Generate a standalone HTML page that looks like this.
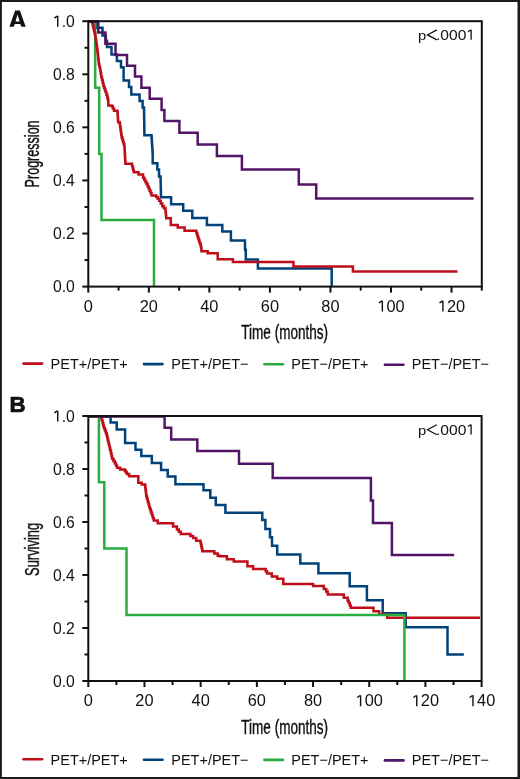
<!DOCTYPE html>
<html><head><meta charset="utf-8"><style>
html,body{margin:0;padding:0;background:#fff;width:520px;height:779px;overflow:hidden}
svg{display:block;will-change:transform}
text{font-family:"Liberation Sans", sans-serif}
</style></head><body>
<svg width="520" height="779" viewBox="0 0 520 779" font-family='"Liberation Sans", sans-serif' fill="#111">
<rect x="0" y="0" width="520" height="779" fill="#fff"/>
<path d="M88.30,21.70H97.20V27.70H102.50V35.40H105.80V40.80H107.00V47.00H111.50V54.40H116.90V61.00H121.00V67.30H123.60V80.60H129.00V86.90H131.30V94.40H139.60V100.90H142.60V107.50H144.00H144.03V109.81H144.07V112.12H144.10V114.42H144.13V116.73H144.17V119.04H144.20V121.35H144.23V123.66H144.27V125.97H144.30V128.27H144.33V130.58H144.37V132.89H144.40V135.20H151.40H151.56V137.67H151.72V140.15H151.89V142.62H152.05V145.10H152.21V147.57H152.38V150.05H152.54V152.53H152.70V155.00V163.30H157.30V169.60H159.00V176.50H160.50H160.56V178.80H160.61V181.10H160.67V183.40H160.72V185.70H160.78V188.00H160.83V190.30H160.89V192.60H160.94V194.90H161.00V197.20H171.10V204.20H183.20V210.70H192.30V218.10H206.90V225.00H222.30V231.60H230.90V240.50H245.00V249.80H245.80V259.40H257.90V268.40H331.70V286.60" fill="none" stroke="#00427a" stroke-width="2.5" stroke-linejoin="miter" stroke-linecap="butt"/>
<path d="M88.30,21.70H95.20V87.80H99.20V154.10H101.50V220.10H154.00V286.60" fill="none" stroke="#29ad40" stroke-width="2.5" stroke-linejoin="miter" stroke-linecap="butt"/>
<path d="M88.30,21.70H91.50H92.20V23.00H92.78V25.48H93.36V27.96H93.94V30.44H94.52V32.92H95.10V35.40H95.42V37.55H95.75V39.70H96.08V41.85H96.40V44.00H96.75V46.50H97.10V49.00H97.45V51.50H97.80V54.00H98.05V56.52H98.30V59.05H98.55V61.57H98.80V64.10H99.33V66.50H99.87V68.90H100.40V71.30H100.73V73.37H101.07V75.43H101.40V77.50H102.07V80.23H102.73V82.97H103.40V85.70H104.10V87.77H104.80V89.83H105.50V91.90H106.40V94.70H107.30V97.50H107.80V99.50H108.30V101.50V105.60H111.70V106.20H112.85V108.50H114.00V110.80H117.50V112.50H117.65V114.95H117.80V117.40H117.95V119.85H118.10V122.30H119.80V124.60H120.16V127.14H120.52V129.68H120.88V132.22H121.24V134.76H121.60V137.30H122.30V139.62H123.00V141.95H123.70V144.28H124.40V146.60H124.54V149.06H124.69V151.51H124.83V153.97H124.97V156.43H125.11V158.89H125.26V161.34H125.40V163.80H131.50H132.07V165.93H132.65V168.05H133.23V170.18H133.80V172.30H138.50V174.60H143.10V177.70H144.25V179.82H145.40V181.95H146.55V184.07H147.70V186.20H148.65V188.50H149.60V190.80H150.55V193.10H151.50V195.40H156.20V196.90H157.70V198.85H159.20V200.80H160.75V203.50H162.30V206.20H163.85V208.10H165.40V210.00H165.67V212.77H165.93V215.53H166.20V218.30H170.80V225.00H177.70V227.60H184.60V230.70H195.70H196.40V232.92H197.10V235.15H197.80V237.38H198.50V239.60H199.27V241.90H200.03V244.20H200.80V246.50H201.15V248.85H201.50V251.20H207.70V253.20H217.70V259.30H232.90V261.90H293.50V266.50H352.90V271.60H457.50" fill="none" stroke="#bf0d1a" stroke-width="2.5" stroke-linejoin="miter" stroke-linecap="butt"/>
<path d="M88.30,21.70H98.30V32.50H105.40V43.80H115.50V54.90H127.00V65.70H135.00V76.60H141.40V87.70H149.70V98.80H161.60V110.00H164.40V121.00H179.40V132.80H197.70V144.40H216.90V156.00H241.90V169.40H298.80V184.60H316.20V198.40H473.60" fill="none" stroke="#521466" stroke-width="2.5" stroke-linejoin="miter" stroke-linecap="butt"/>
<rect x="88.3" y="21.2" width="393.5" height="265.40000000000003" fill="none" stroke="#111" stroke-width="2.0"/>
<line x1="82.3" y1="286.60" x2="88.3" y2="286.60" stroke="#111" stroke-width="2.0"/>
<line x1="84.5" y1="260.06" x2="88.3" y2="260.06" stroke="#111" stroke-width="2.0"/>
<line x1="82.3" y1="233.52" x2="88.3" y2="233.52" stroke="#111" stroke-width="2.0"/>
<line x1="84.5" y1="206.98" x2="88.3" y2="206.98" stroke="#111" stroke-width="2.0"/>
<line x1="82.3" y1="180.44" x2="88.3" y2="180.44" stroke="#111" stroke-width="2.0"/>
<line x1="84.5" y1="153.90" x2="88.3" y2="153.90" stroke="#111" stroke-width="2.0"/>
<line x1="82.3" y1="127.36" x2="88.3" y2="127.36" stroke="#111" stroke-width="2.0"/>
<line x1="84.5" y1="100.82" x2="88.3" y2="100.82" stroke="#111" stroke-width="2.0"/>
<line x1="82.3" y1="74.28" x2="88.3" y2="74.28" stroke="#111" stroke-width="2.0"/>
<line x1="84.5" y1="47.74" x2="88.3" y2="47.74" stroke="#111" stroke-width="2.0"/>
<line x1="82.3" y1="21.20" x2="88.3" y2="21.20" stroke="#111" stroke-width="2.0"/>
<line x1="88.30" y1="286.6" x2="88.30" y2="292.6" stroke="#111" stroke-width="2.0"/>
<line x1="118.57" y1="286.6" x2="118.57" y2="290.6" stroke="#111" stroke-width="2.0"/>
<line x1="148.84" y1="286.6" x2="148.84" y2="292.6" stroke="#111" stroke-width="2.0"/>
<line x1="179.11" y1="286.6" x2="179.11" y2="290.6" stroke="#111" stroke-width="2.0"/>
<line x1="209.38" y1="286.6" x2="209.38" y2="292.6" stroke="#111" stroke-width="2.0"/>
<line x1="239.65" y1="286.6" x2="239.65" y2="290.6" stroke="#111" stroke-width="2.0"/>
<line x1="269.92" y1="286.6" x2="269.92" y2="292.6" stroke="#111" stroke-width="2.0"/>
<line x1="300.18" y1="286.6" x2="300.18" y2="290.6" stroke="#111" stroke-width="2.0"/>
<line x1="330.45" y1="286.6" x2="330.45" y2="292.6" stroke="#111" stroke-width="2.0"/>
<line x1="360.72" y1="286.6" x2="360.72" y2="290.6" stroke="#111" stroke-width="2.0"/>
<line x1="390.99" y1="286.6" x2="390.99" y2="292.6" stroke="#111" stroke-width="2.0"/>
<line x1="421.26" y1="286.6" x2="421.26" y2="290.6" stroke="#111" stroke-width="2.0"/>
<line x1="451.53" y1="286.6" x2="451.53" y2="292.6" stroke="#111" stroke-width="2.0"/>
<line x1="481.80" y1="286.6" x2="481.80" y2="290.6" stroke="#111" stroke-width="2.0"/>
<text x="52.90" y="292.20" font-size="15.6" textLength="21.9" lengthAdjust="spacingAndGlyphs">0.0</text>
<text x="52.90" y="239.12" font-size="15.6" textLength="21.9" lengthAdjust="spacingAndGlyphs">0.2</text>
<text x="52.90" y="186.04" font-size="15.6" textLength="21.9" lengthAdjust="spacingAndGlyphs">0.4</text>
<text x="52.90" y="132.96" font-size="15.6" textLength="21.9" lengthAdjust="spacingAndGlyphs">0.6</text>
<text x="52.90" y="79.88" font-size="15.6" textLength="21.9" lengthAdjust="spacingAndGlyphs">0.8</text>
<text x="52.90" y="26.80" font-size="15.6" textLength="21.9" lengthAdjust="spacingAndGlyphs"> .0</text>
<path d="M57.72,26.80V15.83M57.27,16.08L54.36,18.12" stroke="#111" stroke-width="1.41" fill="none"/>
<text x="83.75" y="311.60" font-size="15.6" textLength="9.1" lengthAdjust="spacingAndGlyphs">0</text>
<text x="139.74" y="311.60" font-size="15.6" textLength="18.2" lengthAdjust="spacingAndGlyphs">20</text>
<text x="200.28" y="311.60" font-size="15.6" textLength="18.2" lengthAdjust="spacingAndGlyphs">40</text>
<text x="260.82" y="311.60" font-size="15.6" textLength="18.2" lengthAdjust="spacingAndGlyphs">60</text>
<text x="321.35" y="311.60" font-size="15.6" textLength="18.2" lengthAdjust="spacingAndGlyphs">80</text>
<text x="377.34" y="311.60" font-size="15.6" textLength="27.299999999999997" lengthAdjust="spacingAndGlyphs"> 00</text>
<path d="M382.35,311.60V300.63M381.90,300.88L378.99,302.92" stroke="#111" stroke-width="1.41" fill="none"/>
<text x="437.88" y="311.60" font-size="15.6" textLength="27.299999999999997" lengthAdjust="spacingAndGlyphs"> 20</text>
<path d="M442.89,311.60V300.63M442.44,300.88L439.53,302.92" stroke="#111" stroke-width="1.41" fill="none"/>
<path d="M88.30,416.50H110.60V422.60H116.70V429.60H125.10V442.90H135.50V449.80H141.30V456.10H151.80V463.10H161.10V470.00H167.70V476.60H175.40V484.20H203.50V490.30H210.30V497.70H215.80V505.10H225.40V512.70H262.30V520.00H265.40V528.90H270.00V537.20H272.00V545.80H277.20V554.40H300.30V563.40H318.40V573.20H349.70V586.20H366.90V600.20H382.70V613.30H405.70V627.20H447.50V654.50H463.80" fill="none" stroke="#00427a" stroke-width="2.5" stroke-linejoin="miter" stroke-linecap="butt"/>
<path d="M88.30,416.50H100.50H101.30V418.30H101.97V420.77H102.65V423.25H103.33V425.73H104.00V428.20H104.90V430.60H105.80V433.00H106.70V435.40H107.30V438.07H107.90V440.73H108.50V443.40H109.10V445.80H109.70V448.20H110.30V450.60H110.90V453.30H111.50V456.00H112.10V458.70H113.45V460.95H114.80V463.20H115.90V465.45H117.00V467.70H120.20V469.50H124.60V470.40H125.75V472.20H126.90V474.00H129.10V476.20H138.30V482.70H141.70V484.40H145.20V486.70H145.47V489.15H145.75V491.60H146.03V494.05H146.30V496.50H147.03V499.10H147.75V501.70H148.47V504.30H149.20V506.90H149.97V509.15H150.73V511.40H151.50V513.65H152.27V515.90H153.03V518.15H153.80V520.40H157.70V523.20H166.20H173.10V526.50H176.90V529.60H178.85V531.75H180.80V533.90H187.70H190.40V535.95H193.10V538.00H196.20V540.70H200.00H200.57V543.33H201.15V545.95H201.73V548.58H202.30V551.20H210.80H214.25V553.50H217.70V555.80H220.00V556.20H226.90V559.20H233.80V561.50H247.40V566.20H253.10V568.90H264.40H265.75V571.20H267.10V573.50H271.80V576.40H277.20V578.80H283.30V581.30V584.00H313.10V586.00H322.00H323.80V588.90H326.20V591.50H327.70V594.60H342.30H343.80V597.70H347.70V600.80H348.73V603.10H349.77V605.40H350.80V607.70H373.50V611.30H379.20V614.50H387.30V617.70H480.00" fill="none" stroke="#bf0d1a" stroke-width="2.5" stroke-linejoin="miter" stroke-linecap="butt"/>
<path d="M88.30,416.50H98.90V482.30H104.30V548.60H126.50V614.90H404.40V681.00" fill="none" stroke="#29ad40" stroke-width="2.5" stroke-linejoin="miter" stroke-linecap="butt"/>
<path d="M88.30,416.50H164.60V427.70H171.20V439.40H197.30V450.90H239.00V463.70H272.70V477.90H370.90V500.50H373.00V523.00H391.90V554.90H454.20" fill="none" stroke="#521466" stroke-width="2.5" stroke-linejoin="miter" stroke-linecap="butt"/>
<rect x="88.3" y="416.0" width="393.3" height="265.0" fill="none" stroke="#111" stroke-width="2.0"/>
<line x1="82.3" y1="681.00" x2="88.3" y2="681.00" stroke="#111" stroke-width="2.0"/>
<line x1="84.5" y1="654.50" x2="88.3" y2="654.50" stroke="#111" stroke-width="2.0"/>
<line x1="82.3" y1="628.00" x2="88.3" y2="628.00" stroke="#111" stroke-width="2.0"/>
<line x1="84.5" y1="601.50" x2="88.3" y2="601.50" stroke="#111" stroke-width="2.0"/>
<line x1="82.3" y1="575.00" x2="88.3" y2="575.00" stroke="#111" stroke-width="2.0"/>
<line x1="84.5" y1="548.50" x2="88.3" y2="548.50" stroke="#111" stroke-width="2.0"/>
<line x1="82.3" y1="522.00" x2="88.3" y2="522.00" stroke="#111" stroke-width="2.0"/>
<line x1="84.5" y1="495.50" x2="88.3" y2="495.50" stroke="#111" stroke-width="2.0"/>
<line x1="82.3" y1="469.00" x2="88.3" y2="469.00" stroke="#111" stroke-width="2.0"/>
<line x1="84.5" y1="442.50" x2="88.3" y2="442.50" stroke="#111" stroke-width="2.0"/>
<line x1="82.3" y1="416.00" x2="88.3" y2="416.00" stroke="#111" stroke-width="2.0"/>
<line x1="88.30" y1="681.0" x2="88.30" y2="687.0" stroke="#111" stroke-width="2.0"/>
<line x1="116.39" y1="681.0" x2="116.39" y2="685.0" stroke="#111" stroke-width="2.0"/>
<line x1="144.49" y1="681.0" x2="144.49" y2="687.0" stroke="#111" stroke-width="2.0"/>
<line x1="172.58" y1="681.0" x2="172.58" y2="685.0" stroke="#111" stroke-width="2.0"/>
<line x1="200.67" y1="681.0" x2="200.67" y2="687.0" stroke="#111" stroke-width="2.0"/>
<line x1="228.76" y1="681.0" x2="228.76" y2="685.0" stroke="#111" stroke-width="2.0"/>
<line x1="256.86" y1="681.0" x2="256.86" y2="687.0" stroke="#111" stroke-width="2.0"/>
<line x1="284.95" y1="681.0" x2="284.95" y2="685.0" stroke="#111" stroke-width="2.0"/>
<line x1="313.04" y1="681.0" x2="313.04" y2="687.0" stroke="#111" stroke-width="2.0"/>
<line x1="341.14" y1="681.0" x2="341.14" y2="685.0" stroke="#111" stroke-width="2.0"/>
<line x1="369.23" y1="681.0" x2="369.23" y2="687.0" stroke="#111" stroke-width="2.0"/>
<line x1="397.32" y1="681.0" x2="397.32" y2="685.0" stroke="#111" stroke-width="2.0"/>
<line x1="425.41" y1="681.0" x2="425.41" y2="687.0" stroke="#111" stroke-width="2.0"/>
<line x1="453.51" y1="681.0" x2="453.51" y2="685.0" stroke="#111" stroke-width="2.0"/>
<line x1="481.60" y1="681.0" x2="481.60" y2="687.0" stroke="#111" stroke-width="2.0"/>
<text x="52.90" y="686.60" font-size="15.6" textLength="21.9" lengthAdjust="spacingAndGlyphs">0.0</text>
<text x="52.90" y="633.60" font-size="15.6" textLength="21.9" lengthAdjust="spacingAndGlyphs">0.2</text>
<text x="52.90" y="580.60" font-size="15.6" textLength="21.9" lengthAdjust="spacingAndGlyphs">0.4</text>
<text x="52.90" y="527.60" font-size="15.6" textLength="21.9" lengthAdjust="spacingAndGlyphs">0.6</text>
<text x="52.90" y="474.60" font-size="15.6" textLength="21.9" lengthAdjust="spacingAndGlyphs">0.8</text>
<text x="52.90" y="421.60" font-size="15.6" textLength="21.9" lengthAdjust="spacingAndGlyphs"> .0</text>
<path d="M57.72,421.60V410.63M57.27,410.88L54.36,412.92" stroke="#111" stroke-width="1.41" fill="none"/>
<text x="83.75" y="706.20" font-size="15.6" textLength="9.1" lengthAdjust="spacingAndGlyphs">0</text>
<text x="135.39" y="706.20" font-size="15.6" textLength="18.2" lengthAdjust="spacingAndGlyphs">20</text>
<text x="191.57" y="706.20" font-size="15.6" textLength="18.2" lengthAdjust="spacingAndGlyphs">40</text>
<text x="247.76" y="706.20" font-size="15.6" textLength="18.2" lengthAdjust="spacingAndGlyphs">60</text>
<text x="303.94" y="706.20" font-size="15.6" textLength="18.2" lengthAdjust="spacingAndGlyphs">80</text>
<text x="355.58" y="706.20" font-size="15.6" textLength="27.299999999999997" lengthAdjust="spacingAndGlyphs"> 00</text>
<path d="M360.58,706.20V695.23M360.13,695.48L357.23,697.52" stroke="#111" stroke-width="1.41" fill="none"/>
<text x="411.76" y="706.20" font-size="15.6" textLength="27.299999999999997" lengthAdjust="spacingAndGlyphs"> 20</text>
<path d="M416.77,706.20V695.23M416.32,695.48L413.41,697.52" stroke="#111" stroke-width="1.41" fill="none"/>
<text x="467.95" y="706.20" font-size="15.6" textLength="27.299999999999997" lengthAdjust="spacingAndGlyphs"> 40</text>
<path d="M472.96,706.20V695.23M472.51,695.48L469.60,697.52" stroke="#111" stroke-width="1.41" fill="none"/>
<path fill="#111" fill-rule="evenodd" d="M9.4,26.8 L15.1,10.6 L19.9,10.6 L25.7,26.8 L21.4,26.8 L20.2,23.9 L14.8,23.9 L13.7,26.8 Z M15.5,21.5 L17.5,14.6 L19.6,21.5 Z"/>
<text x="9.6" y="411.75" font-size="22.3" font-weight="bold" stroke="#111" stroke-width="0.7" stroke-linejoin="round">B</text>
<text x="418.1" y="39.8" font-size="13.3" textLength="8.2" lengthAdjust="spacingAndGlyphs">p</text>
<path d="M436.9,29.90 L427.4,34.90 L436.9,39.90" fill="none" stroke="#111" stroke-width="1.25" stroke-linejoin="miter"/>
<text x="436.00" y="39.80" font-size="14.4" textLength="39.0" lengthAdjust="spacingAndGlyphs">.000 </text>
<path d="M471.10,39.80V29.69M470.65,29.94L468.00,31.79" stroke="#111" stroke-width="1.30" fill="none"/>
<text x="418.1" y="434.6" font-size="13.3" textLength="8.2" lengthAdjust="spacingAndGlyphs">p</text>
<path d="M436.9,424.70 L427.4,429.70 L436.9,434.70" fill="none" stroke="#111" stroke-width="1.25" stroke-linejoin="miter"/>
<text x="436.00" y="434.60" font-size="14.4" textLength="39.0" lengthAdjust="spacingAndGlyphs">.000 </text>
<path d="M471.10,434.60V424.49M470.65,424.74L468.00,426.59" stroke="#111" stroke-width="1.30" fill="none"/>
<text x="241.3" y="338.7" font-size="19.8" textLength="86.8" lengthAdjust="spacingAndGlyphs" stroke="#111" stroke-width="0.4">Time (months)</text>
<text x="241.3" y="733.5" font-size="19.8" textLength="86.8" lengthAdjust="spacingAndGlyphs" stroke="#111" stroke-width="0.4">Time (months)</text>
<text transform="translate(39.0,187.4) rotate(-90)" x="0" y="0" font-size="19.6" textLength="67" lengthAdjust="spacingAndGlyphs" stroke="#111" stroke-width="0.4">Progression</text>
<text transform="translate(39.3,576.0) rotate(-90)" x="0" y="0" font-size="19.6" textLength="53.2" lengthAdjust="spacingAndGlyphs" stroke="#111" stroke-width="0.4">Surviving</text>
<line x1="23.5" y1="363.6" x2="42.1" y2="363.6" stroke="#bf0d1a" stroke-width="2.6" stroke-linecap="round"/>
<text x="50.60" y="369.4" font-size="15" textLength="77.2" lengthAdjust="spacingAndGlyphs">PET+/PET+</text>
<line x1="143.9" y1="364.1" x2="162.49999999999997" y2="364.1" stroke="#00427a" stroke-width="2.6" stroke-linecap="round"/>
<text x="171.30" y="369.4" font-size="15" textLength="77.2" lengthAdjust="spacingAndGlyphs">PET+/PET−</text>
<line x1="264.40000000000003" y1="364.3" x2="283.0" y2="364.3" stroke="#29ad40" stroke-width="2.6" stroke-linecap="round"/>
<text x="291.30" y="369.4" font-size="15" textLength="77.2" lengthAdjust="spacingAndGlyphs">PET−/PET+</text>
<line x1="384.90000000000003" y1="364.8" x2="403.5" y2="364.8" stroke="#521466" stroke-width="2.6" stroke-linecap="round"/>
<text x="411.80" y="369.4" font-size="15" textLength="77.2" lengthAdjust="spacingAndGlyphs">PET−/PET−</text>
<line x1="23.5" y1="759.2" x2="42.1" y2="759.2" stroke="#bf0d1a" stroke-width="2.6" stroke-linecap="round"/>
<text x="50.60" y="764.7" font-size="15" textLength="77.2" lengthAdjust="spacingAndGlyphs">PET+/PET+</text>
<line x1="143.9" y1="759.7" x2="162.49999999999997" y2="759.7" stroke="#00427a" stroke-width="2.6" stroke-linecap="round"/>
<text x="171.30" y="764.7" font-size="15" textLength="77.2" lengthAdjust="spacingAndGlyphs">PET+/PET−</text>
<line x1="264.40000000000003" y1="759.9000000000001" x2="283.0" y2="759.9000000000001" stroke="#29ad40" stroke-width="2.6" stroke-linecap="round"/>
<text x="291.30" y="764.7" font-size="15" textLength="77.2" lengthAdjust="spacingAndGlyphs">PET−/PET+</text>
<line x1="384.90000000000003" y1="760.4000000000001" x2="403.5" y2="760.4000000000001" stroke="#521466" stroke-width="2.6" stroke-linecap="round"/>
<text x="411.80" y="764.7" font-size="15" textLength="77.2" lengthAdjust="spacingAndGlyphs">PET−/PET−</text>
<path fill="#1e1b1c" d="M0,0H520V779H0Z M1.9,1.9V776.9H517.5V1.9Z" fill-rule="evenodd"/>
</svg>
</body></html>
